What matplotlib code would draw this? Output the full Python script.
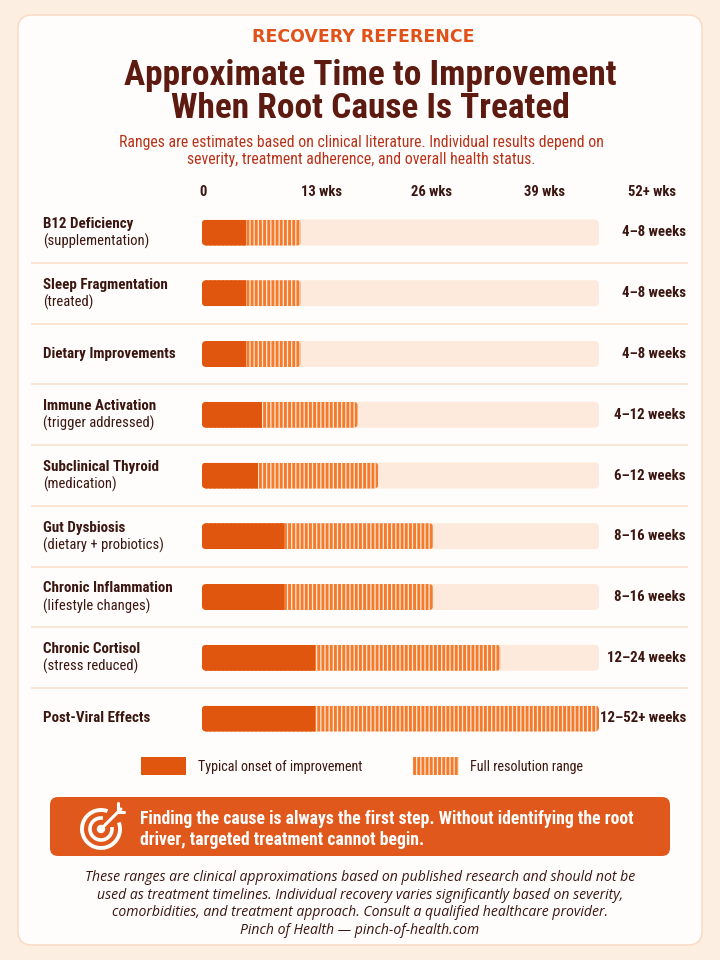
import matplotlib
matplotlib.use('Agg')
import matplotlib.pyplot as plt
from matplotlib.patches import FancyBboxPatch, Circle, Arc, Patch
from matplotlib import transforms

# rows of the chart, top to bottom
causes = ['B12 Deficiency', 'Sleep Fragmentation', 'Dietary Improvements',
          'Immune Activation', 'Subclinical Thyroid', 'Gut Dysbiosis',
          'Chronic Inflammation', 'Chronic Cortisol', 'Post-Viral Effects']
notes = ['(supplementation)', '(treated)', '',
         '(trigger addressed)', '(medication)', '(dietary + probiotics)',
         '(lifestyle changes)', '(stress reduced)', '']
range_labels = ['4–8 weeks', '4–8 weeks', '4–8 weeks', '4–12 weeks', '6–12 weeks',
                '8–16 weeks', '8–16 weeks', '12–24 weeks', '12–52+ weeks']
# bar ends as drawn, in weeks on the 0-52 track
onset_wks = [5.7, 5.7, 5.7, 7.9, 7.3, 10.8, 10.8, 14.8, 14.8]
full_wks = [13.0, 13.0, 13.0, 20.4, 23.1, 30.3, 30.3, 39.1, 52.0]
track_max = 52
tick_pos = [0.1, 15.6, 30.1, 44.8, 58.9]
tick_labels = ['0', '13 wks', '26 wks', '39 wks', '52+ wks']

NARROW = ['Roboto Condensed', 'Roboto', 'DejaVu Sans']
ORANGE = '#E1560F'
STRIPE = '#F47A2C'
STRIPE_BG = '#FFEBDD'
TRACK = '#FDEADC'
DARK = '#3B1510'
TITLE = '#5C1A10'

plt.rcParams['font.family'] = NARROW
plt.rcParams['hatch.linewidth'] = 2.1

fig = plt.figure(figsize=(7.2, 9.6), dpi=100)
fig.patch.set_facecolor('#FDEEE2')

# background axes in pixel units for the card and decorations
bg = fig.add_axes([0, 0, 1, 1])
bg.set_xlim(0, 720)
bg.set_ylim(960, 0)
bg.axis('off')
bg.add_patch(FancyBboxPatch((18, 15), 684, 930, boxstyle='round,pad=0,rounding_size=14',
                            facecolor='#FFFDFB', edgecolor='#F9DCC8', lw=1.2))

def px(x, y):
    return x / 720, 1 - y / 960

fig.text(*px(363, 37), 'RECOVERY REFERENCE', ha='center', va='center', color='#E0521A',
         fontsize=12.5, fontweight='bold', family=['DejaVu Sans'])
fig.text(*px(370, 76), 'Approximate Time to Improvement', ha='center', va='center',
         color=TITLE, fontsize=25.5, fontweight='bold')
fig.text(*px(370, 108), 'When Root Cause Is Treated', ha='center', va='center',
         color=TITLE, fontsize=25.5, fontweight='bold')
fig.text(*px(361, 151), 'Ranges are estimates based on clinical literature. Individual results depend on\n'
         'severity, treatment adherence, and overall health status.', ha='center', va='center',
         color='#B8321A', fontsize=11.3, linespacing=1.15)

# main chart axes: x in weeks, y in rows
ax = fig.add_axes([202 / 720, 1 - 750 / 960, 498 / 720, 543 / 960])
ax.set_facecolor('none')
px_per_wk = 397 / track_max
ax.set_xlim(0, 498 / px_per_wk)
row_px = 60.75
ax.set_ylim((750 - 232.5) / row_px, (207 - 232.5) / row_px)
for s in ax.spines.values():
    s.set_visible(False)
ax.xaxis.tick_top()
ax.set_xticks(tick_pos, tick_labels)
ax.set_yticks([])
ax.tick_params(length=0, pad=6, labelsize=10.5, labelcolor=DARK)
for t in ax.get_xticklabels():
    t.set_fontweight('bold')

h = 26 / row_px
r = 4.5
rs = r / px_per_wk
asp = px_per_wk / row_px
rows = list(range(len(causes)))

for i in rows:
    ax.add_patch(FancyBboxPatch((0, i - h / 2), track_max, h,
                                boxstyle='round,pad=0,rounding_size=%f' % rs,
                                mutation_aspect=asp, facecolor=TRACK, lw=0, zorder=1))

hatched = ax.barh(rows, full_wks, height=h, color=STRIPE_BG, edgecolor=STRIPE,
                  hatch='||||', lw=0, zorder=2)
solid = ax.barh(rows, onset_wks, height=h, color=ORANGE, lw=0, zorder=3)
for i in rows:
    for bar in (hatched[i], solid[i]):
        clip = FancyBboxPatch((0, i - h / 2), full_wks[i], h,
                              boxstyle='round,pad=0,rounding_size=%f' % rs,
                              mutation_aspect=asp, transform=ax.transData)
        bar.set_clip_path(clip)

# row separators
for i in rows[:-1]:
    ax.axhline(i + 0.5, xmin=-170 / 498, xmax=485 / 498, color='#FBE2D2', lw=1.3,
               clip_on=False, zorder=0)

lab_tr = transforms.blended_transform_factory(fig.transFigure, ax.transData)
for i in rows:
    if notes[i]:
        ax.text(43 / 720, i - 8.5 / row_px, causes[i], transform=lab_tr, ha='left',
                va='center', fontsize=10.8, fontweight='bold', color=DARK)
        ax.text(43 / 720, i + 9 / row_px, notes[i], transform=lab_tr, ha='left',
                va='center', fontsize=10.5, color=DARK)
    else:
        ax.text(43 / 720, i, causes[i], transform=lab_tr, ha='left', va='center',
                fontsize=10.8, fontweight='bold', color=DARK)
    ax.text((686 - 202) / px_per_wk, i, range_labels[i], ha='right', va='center',
            fontsize=10.7, fontweight='bold', color=DARK, clip_on=False)

handles = [Patch(facecolor=ORANGE, lw=0, label='Typical onset of improvement'),
           Patch(facecolor=STRIPE_BG, edgecolor=STRIPE, hatch='||||', lw=0,
                 label='Full resolution range')]
fig.legend(handles=handles, loc='center', bbox_to_anchor=px(362, 766), ncol=2,
           frameon=False, fontsize=10.2, handlelength=3.2, handleheight=1.6,
           handletextpad=0.8, columnspacing=3.6, labelcolor=DARK)

# call-out box
bg.add_patch(FancyBboxPatch((50, 797), 620, 59, boxstyle='round,pad=0,rounding_size=8',
                            facecolor='#E0581C', lw=0))
cx, cy = 101, 829
bg.add_patch(Arc((cx, cy), 38, 38, theta1=-20, theta2=290, color='white', lw=2.8))
bg.add_patch(Arc((cx, cy), 22, 22, theta1=-10, theta2=280, color='white', lw=2.6))
bg.add_patch(Circle((cx, cy), 3.5, color='white'))
bg.plot([cx, cx + 20], [cy, cy - 20], color='white', lw=2.2, solid_capstyle='round')
bg.plot([cx + 17, cx + 17, cx + 23], [cy - 26, cy - 17, cy - 17], color='white', lw=2.2,
        solid_capstyle='round')
fig.text(*px(140, 829.5), 'Finding the cause is always the first step. Without identifying the root\n'
         'driver, targeted treatment cannot begin.', ha='left', va='center', color='white',
         fontsize=12.7, fontweight='bold', linespacing=1.25)

fig.text(*px(360, 904), 'These ranges are clinical approximations based on published research and should not be\n'
         'used as treatment timelines. Individual recovery varies significantly based on severity,\n'
         'comorbidities, and treatment approach. Consult a qualified healthcare provider.\n'
         'Pinch of Health — pinch-of-health.com', ha='center', va='center', color=DARK,
         fontsize=10.1, style='italic', family=['Open Sans', 'DejaVu Sans'], linespacing=1.25)

fig.savefig('out.png', dpi=100, facecolor=fig.get_facecolor())
